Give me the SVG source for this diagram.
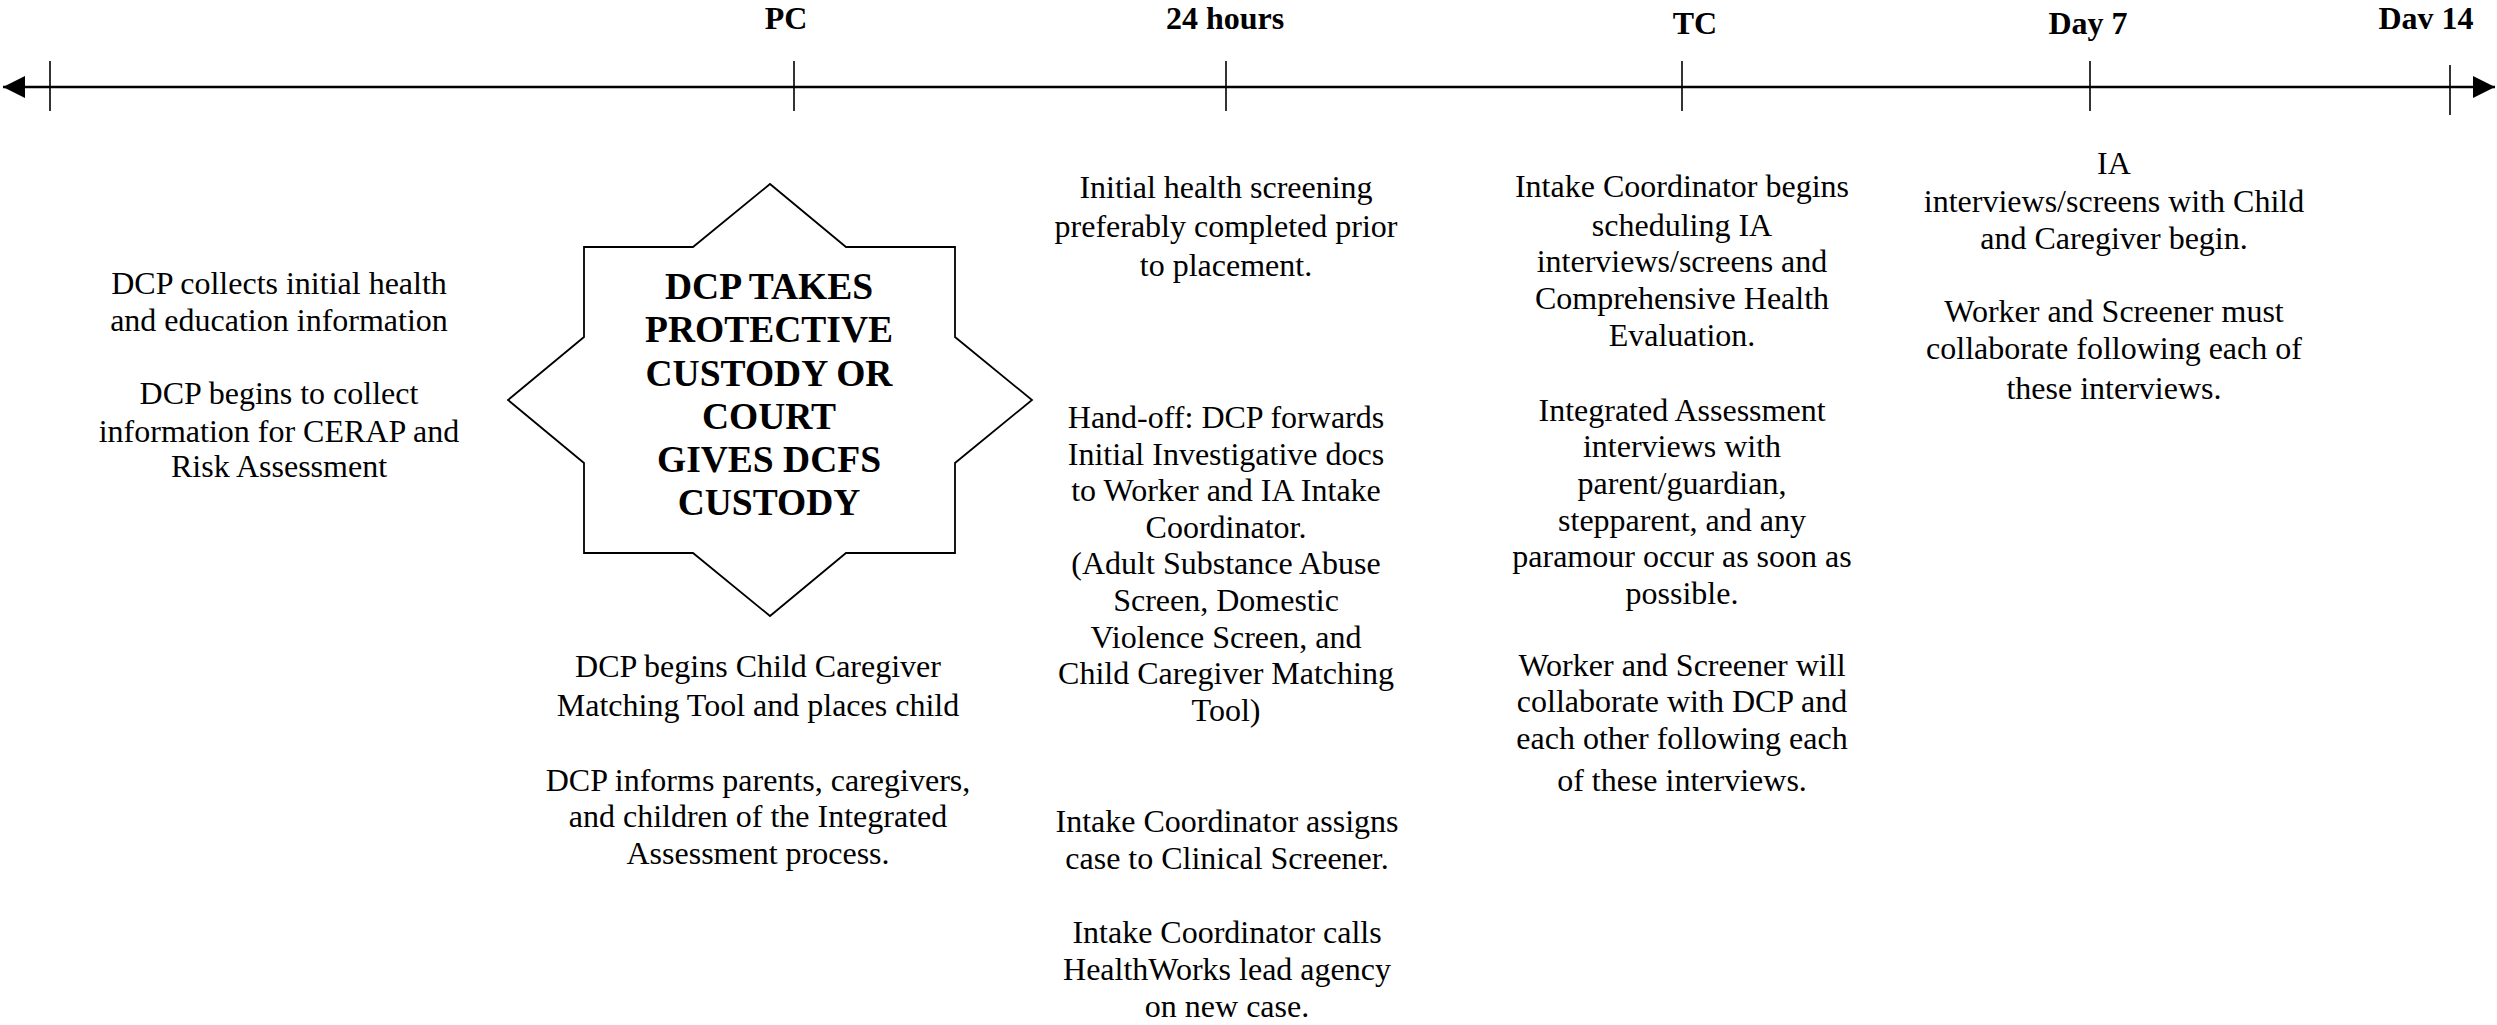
<svg xmlns="http://www.w3.org/2000/svg" width="2497" height="1025" viewBox="0 0 2497 1025">
<style>
  text { font-family: "Liberation Serif", "Times New Roman", serif; fill: #000; text-anchor: middle; }
  .t { font-size: 32px; }
  .lbl { font-size: 32px; font-weight: bold; }
  .st { font-size: 37.5px; font-weight: bold; }
  .axis { stroke: #000; stroke-width: 2.5; fill: none; }
  .tick { stroke: #000; stroke-width: 1.6; fill: none; }
  .star { stroke: #000; stroke-width: 1.8; fill: #fff; }
</style>
<defs>
  <marker id="arr" viewBox="0 0 22 22" refX="22" refY="11" markerWidth="22" markerHeight="22" markerUnits="userSpaceOnUse" orient="auto-start-reverse">
    <path d="M0,0 L22,11 L0,22 Z" fill="#000"/>
  </marker>
</defs>

<g id="connectors">
  <line class="axis" x1="3" y1="87" x2="2495" y2="87" marker-start="url(#arr)" marker-end="url(#arr)"/>
  <line class="tick" x1="50" y1="61" x2="50" y2="111"/>
  <line class="tick" x1="794" y1="61" x2="794" y2="111"/>
  <line class="tick" x1="1226" y1="61" x2="1226" y2="111"/>
  <line class="tick" x1="1682" y1="61" x2="1682" y2="111"/>
  <line class="tick" x1="2090" y1="61" x2="2090" y2="111"/>
  <line class="tick" x1="2450" y1="65" x2="2450" y2="115"/>
</g>

<g id="labels">
  <text class="lbl" x="786" y="29">PC</text>
  <text class="lbl" x="1225" y="29">24 hours</text>
  <text class="lbl" x="1695" y="34">TC</text>
  <text class="lbl" x="2088" y="34">Day 7</text>
  <text class="lbl" x="2426" y="29">Dav 14</text>
</g>

<g id="node-pre">
  <text class="t" x="279" y="294">DCP collects initial health</text>
  <text class="t" x="279" y="331">and education information</text>
  <text class="t" x="279" y="404">DCP begins to collect</text>
  <text class="t" x="279" y="442">information for CERAP and</text>
  <text class="t" x="279" y="477">Risk Assessment</text>
</g>

<g id="node-star">
  <path class="star" d="M584,247 L693,247 L770,184 L846,247 L955,247 L955,337 L1032,400 L955,463 L955,553 L846,553 L770,616 L693,553 L584,553 L584,463 L508,400 L584,337 Z"/>
  <text class="st" x="769" y="299">DCP TAKES</text>
  <text class="st" x="769" y="342">PROTECTIVE</text>
  <text class="st" x="769" y="386">CUSTODY OR</text>
  <text class="st" x="769" y="429">COURT</text>
  <text class="st" x="769" y="472">GIVES DCFS</text>
  <text class="st" x="769" y="515">CUSTODY</text>
</g>

<g id="node-pc">
  <text class="t" x="758" y="677">DCP begins Child Caregiver</text>
  <text class="t" x="758" y="716">Matching Tool and places child</text>
  <text class="t" x="758" y="791">DCP informs parents, caregivers,</text>
  <text class="t" x="758" y="827">and children of the Integrated</text>
  <text class="t" x="758" y="864">Assessment process.</text>
</g>

<g id="node-24h">
  <text class="t" x="1226" y="198">Initial health screening</text>
  <text class="t" x="1226" y="237">preferably completed prior</text>
  <text class="t" x="1226" y="276">to placement.</text>
  <text class="t" x="1226" y="428">Hand-off: DCP forwards</text>
  <text class="t" x="1226" y="465">Initial Investigative docs</text>
  <text class="t" x="1226" y="501">to Worker and IA Intake</text>
  <text class="t" x="1226" y="538">Coordinator.</text>
  <text class="t" x="1226" y="574">(Adult Substance Abuse</text>
  <text class="t" x="1226" y="611">Screen, Domestic</text>
  <text class="t" x="1226" y="648">Violence Screen, and</text>
  <text class="t" x="1226" y="684">Child Caregiver Matching</text>
  <text class="t" x="1226" y="721">Tool)</text>
  <text class="t" x="1227" y="832">Intake Coordinator assigns</text>
  <text class="t" x="1227" y="869">case to Clinical Screener.</text>
  <text class="t" x="1227" y="943">Intake Coordinator calls</text>
  <text class="t" x="1227" y="980">HealthWorks lead agency</text>
  <text class="t" x="1227" y="1017">on new case.</text>
</g>

<g id="node-tc">
  <text class="t" x="1682" y="197">Intake Coordinator begins</text>
  <text class="t" x="1682" y="236">scheduling IA</text>
  <text class="t" x="1682" y="272">interviews/screens and</text>
  <text class="t" x="1682" y="309">Comprehensive Health</text>
  <text class="t" x="1682" y="346">Evaluation.</text>
  <text class="t" x="1682" y="421">Integrated Assessment</text>
  <text class="t" x="1682" y="457">interviews with</text>
  <text class="t" x="1682" y="494">parent/guardian,</text>
  <text class="t" x="1682" y="531">stepparent, and any</text>
  <text class="t" x="1682" y="567">paramour occur as soon as</text>
  <text class="t" x="1682" y="604">possible.</text>
  <text class="t" x="1682" y="676">Worker and Screener will</text>
  <text class="t" x="1682" y="712">collaborate with DCP and</text>
  <text class="t" x="1682" y="749">each other following each</text>
  <text class="t" x="1682" y="791">of these interviews.</text>
</g>

<g id="node-day7">
  <text class="t" x="2114" y="174">IA</text>
  <text class="t" x="2114" y="212">interviews/screens with Child</text>
  <text class="t" x="2114" y="249">and Caregiver begin.</text>
  <text class="t" x="2114" y="322">Worker and Screener must</text>
  <text class="t" x="2114" y="359">collaborate following each of</text>
  <text class="t" x="2114" y="399">these interviews.</text>
</g>
</svg>
